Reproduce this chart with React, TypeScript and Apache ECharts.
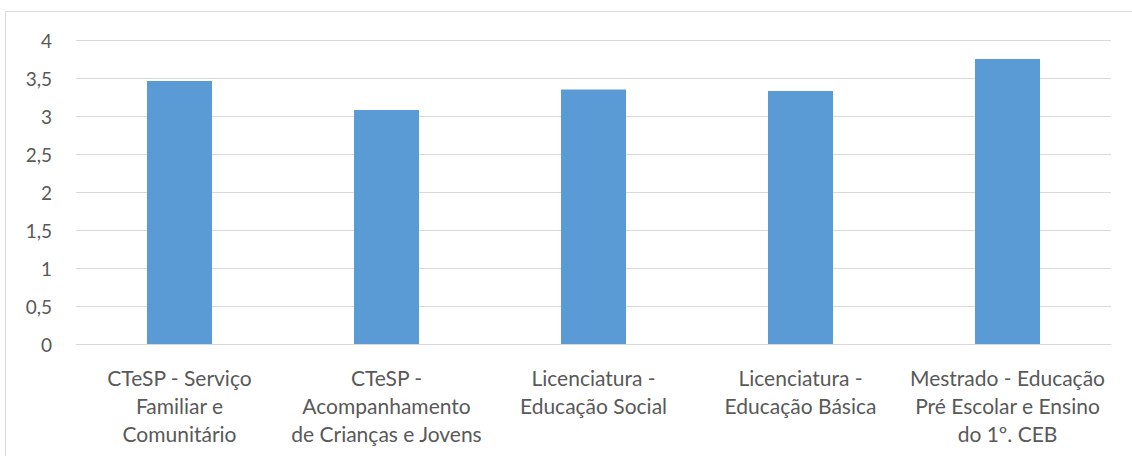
import React, { useEffect, useRef } from "react";
import * as echarts from "echarts";

const categories = [
  "CTeSP - Serviço\nFamiliar e\nComunitário",
  "CTeSP -\nAcompanhamento\nde Crianças e Jovens",
  "Licenciatura -\nEducação Social",
  "Licenciatura -\nEducação Básica",
  "Mestrado - Educação\nPré Escolar e Ensino\ndo 1º. CEB",
];
const values = [3.46, 3.08, 3.35, 3.33, 3.75];

export default function App() {
  const ref = useRef<HTMLDivElement>(null);
  useEffect(() => {
    const chart = echarts.init(ref.current!, null, { renderer: "svg" });
    chart.setOption({
      animation: false,
      backgroundColor: "#ffffff",
      textStyle: { fontFamily: "Lato" },
      graphic: [
        {
          type: "rect",
          shape: { x: 5.5, y: 11.5, width: 1200, height: 600 },
          style: { fill: "none", stroke: "#d9d9d9", lineWidth: 1 },
          silent: true,
        },
      ],
      grid: { left: 76, right: 21, top: 40, bottom: 112 },
      xAxis: {
        type: "category",
        data: categories,
        axisLine: { show: true, lineStyle: { color: "#d9d9d9", width: 1 } },
        axisTick: { show: false },
        axisLabel: {
          color: "#595959",
          fontSize: 21,
          lineHeight: 28,
          margin: 19,
          interval: 0,
          fontFamily: "Lato",
        },
      },
      yAxis: {
        type: "value",
        min: 0,
        max: 4,
        interval: 0.5,
        axisLine: { show: false },
        axisTick: { show: false },
        splitLine: { lineStyle: { color: "#d9d9d9", width: 1 } },
        axisLabel: {
          color: "#595959",
          fontSize: 19,
          margin: 24,
          fontFamily: "Lato",
          formatter: (v: number) => String(v).replace(".", ","),
        },
      },
      series: [
        {
          type: "bar",
          data: values,
          barWidth: 65,
          itemStyle: { color: "#5b9bd5" },
        },
      ],
    });
    return () => chart.dispose();
  }, []);
  return (
    <div
      ref={ref}
      style={{ position: "fixed", left: 0, top: 0, width: 1132, height: 456 }}
    />
  );
}
